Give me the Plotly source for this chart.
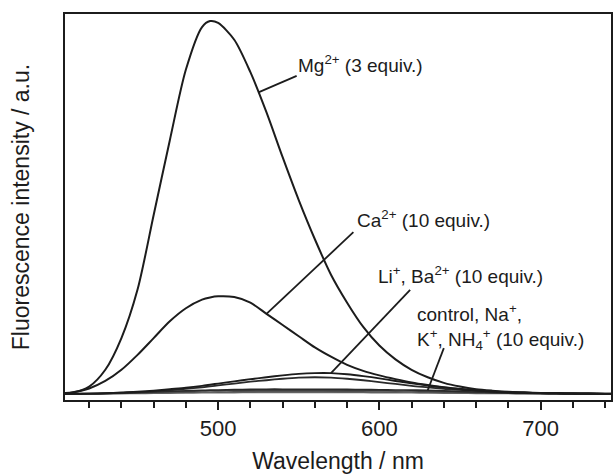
import plotly.graph_objects as go

# Emission wavelength grid (nm)
wavelength = [400, 410, 420, 430, 440, 450, 460, 470, 480, 490, 495, 500, 510, 520, 530,
              540, 550, 560, 570, 580, 590, 600, 610, 620, 630, 640, 650, 660, 670,
              680, 690, 700, 710, 720, 730, 740, 750]

# Fluorescence intensity (a.u.) for each added cation
mg = [0.1, 0.4, 2.0, 6.5, 15, 28, 48, 68, 87, 98.4, 100, 99.5, 95, 86.3, 75.5,
      63.5, 52, 41.5, 32, 24.5, 18, 13, 9.3, 6.5, 4.5, 3.0, 2.0, 1.3, 0.9,
      0.6, 0.45, 0.3, 0.25, 0.2, 0.15, 0.1, 0.1]
ca = [0.1, 0.5, 1.5, 3.5, 6.5, 10.5, 15, 19.5, 23, 25.3, 25.9, 26.2, 26, 24.5, 21.5,
      18.5, 15.5, 12.5, 10, 7.8, 6.2, 5.0, 4.0, 3.1, 2.4, 1.8, 1.3, 1.0, 0.7,
      0.5, 0.35, 0.25, 0.2, 0.15, 0.12, 0.1, 0.1]
li = [0.0, 0.05, 0.1, 0.2, 0.4, 0.6, 0.9, 1.3, 1.7, 2.2, 2.5, 2.8, 3.4, 4.0, 4.5,
      5.0, 5.4, 5.6, 5.6, 5.3, 4.8, 4.2, 3.5, 2.9, 2.3, 1.8, 1.4, 1.0, 0.7,
      0.5, 0.35, 0.25, 0.18, 0.1, 0.08, 0.05, 0.05]
ba = [0.0, 0.05, 0.1, 0.15, 0.3, 0.5, 0.7, 1.0, 1.4, 1.8, 2.05, 2.3, 2.8, 3.3, 3.7,
      4.1, 4.4, 4.5, 4.4, 4.1, 3.7, 3.2, 2.7, 2.2, 1.8, 1.4, 1.1, 0.8, 0.6,
      0.4, 0.3, 0.2, 0.15, 0.1, 0.07, 0.05, 0.05]
control = [0.0, 0.05, 0.1, 0.2, 0.3, 0.45, 0.6, 0.75, 0.9, 1.0, 1.05, 1.1, 1.2, 1.25, 1.3,
           1.3, 1.3, 1.3, 1.28, 1.25, 1.2, 1.15, 1.1, 1.05, 1.0, 0.85, 0.7, 0.55, 0.42,
           0.32, 0.25, 0.2, 0.15, 0.12, 0.1, 0.08, 0.08]
na = [0.0, 0.04, 0.08, 0.15, 0.25, 0.35, 0.5, 0.6, 0.7, 0.8, 0.85, 0.9, 0.95, 1.0, 1.0,
      1.0, 1.0, 1.0, 0.98, 0.95, 0.92, 0.88, 0.84, 0.8, 0.75, 0.65, 0.55, 0.43, 0.33,
      0.25, 0.2, 0.15, 0.12, 0.1, 0.08, 0.06, 0.06]
k = [0.0, 0.03, 0.06, 0.1, 0.15, 0.22, 0.3, 0.38, 0.45, 0.5, 0.52, 0.55, 0.6, 0.62, 0.65,
     0.65, 0.65, 0.65, 0.64, 0.62, 0.6, 0.57, 0.54, 0.5, 0.46, 0.4, 0.34, 0.28, 0.22,
     0.17, 0.13, 0.1, 0.08, 0.06, 0.05, 0.04, 0.04]
nh4 = [0.0, 0.02, 0.04, 0.06, 0.1, 0.14, 0.18, 0.22, 0.26, 0.3, 0.31, 0.33, 0.36, 0.38, 0.4,
       0.4, 0.4, 0.4, 0.4, 0.39, 0.37, 0.35, 0.33, 0.3, 0.27, 0.23, 0.2, 0.16, 0.13,
       0.1, 0.08, 0.06, 0.05, 0.04, 0.03, 0.03, 0.03]

FONT = "Liberation Sans, Arial, sans-serif"
INK = "#1c1c1c"


def at(series, wl):
    """Value of a series at a grid wavelength."""
    return series[wavelength.index(wl)]


fig = go.Figure()

# faint baseline-level spectra first, prominent ones on top
for ys, col, w in [(nh4, "#6a6a6a", 1.4), (k, "#555555", 1.4), (na, "#404040", 1.5),
                   (control, "#2a2a2a", 1.6), (ba, "#2a2a2a", 1.8), (li, INK, 1.9),
                   (ca, INK, 2.0), (mg, INK, 2.0)]:
    fig.add_trace(go.Scatter(x=wavelength, y=ys, mode="lines",
                             line=dict(color=col, width=w, shape="spline", smoothing=0.8),
                             showlegend=False, hoverinfo="skip"))

# label text: (text, x, y) with leader line tail (x, y) and the curve point it marks
labels = [
    ("Mg<sup>2+</sup> (3 equiv.)", 548.0, 88.4, (548.7, 85.3), (525, (at(mg, 520) + at(mg, 530)) / 2)),
    ("Ca<sup>2+</sup> (10 equiv.)", 585.0, 46.8, (583.9, 43.4), (530, at(ca, 530))),
    ("Li<sup>+</sup>, Ba<sup>2+</sup> (10 equiv.)", 598.0, 31.9, (619.1, 27.9), (570, at(li, 570))),
    ("control, Na<sup>+</sup>,<br>K<sup>+</sup>, NH<sub>4</sub><sup>+</sup> (10 equiv.)",
     622.0, 18.0, (640.0, 12.3), (630, at(control, 630))),
]

for text, tx, ty, tail, head in labels:
    fig.add_annotation(x=tx, y=ty, text=text, showarrow=False, xanchor="left",
                       yanchor="middle", align="left",
                       font=dict(family=FONT, size=19, color=INK))
    fig.add_shape(type="line", x0=tail[0], y0=tail[1], x1=head[0], y1=head[1],
                  xref="x", yref="y", line=dict(color=INK, width=1.8))

fig.update_xaxes(
    range=[405, 743.7], showgrid=False, zeroline=False,
    showline=True, linecolor=INK, linewidth=2, mirror=True,
    tickmode="array", tickvals=[500, 600, 700], ticks="outside", ticklen=8,
    tickwidth=1.5, tickcolor=INK,
    minor=dict(tickvals=[420, 440, 460, 480, 520, 540, 560, 580, 620, 640, 660,
                         680, 720, 740],
               ticks="outside", ticklen=6, tickwidth=1.5, tickcolor=INK),
    tickfont=dict(family=FONT, size=22, color=INK),
    title=dict(text="Wavelength / nm", font=dict(family=FONT, size=23, color=INK),
               standoff=12),
)
fig.update_yaxes(
    range=[-1.6, 101.9], showgrid=False, zeroline=False,
    showline=True, linecolor=INK, linewidth=2, mirror=True,
    showticklabels=False, ticks="",
    title=dict(text="Fluorescence intensity / a.u.",
               font=dict(family=FONT, size=23, color=INK), standoff=27),
)

fig.update_layout(
    width=615, height=475,
    margin=dict(l=65, r=2, t=14, b=75),
    paper_bgcolor="white", plot_bgcolor="white",
)

fig.write_html("out.html")
